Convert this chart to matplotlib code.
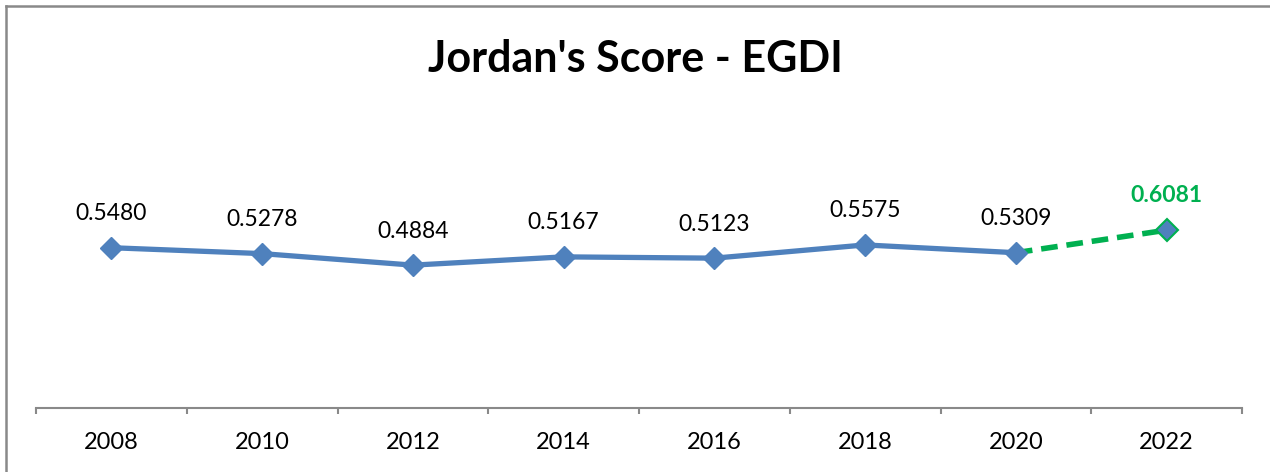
import matplotlib.pyplot as plt
import numpy as np

years = ["2008", "2010", "2012", "2014", "2016", "2018", "2020", "2022"]
scores = [0.5480, 0.5278, 0.4884, 0.5167, 0.5123, 0.5575, 0.5309, 0.6081]

blue = "#4F81BD"
green = "#00B050"
gray = "#898989"

plt.rcParams['font.family'] = ['Lato', 'DejaVu Sans']

fig = plt.figure(figsize=(12.7, 4.72), dpi=100)
ax = fig.add_axes([36 / 1270, 64 / 472, 1206 / 1270, 292.5 / 472])

x = np.arange(len(years))

# dashed forecast segment
ax.plot(x[-2:], scores[-2:], color=green, lw=4, ls=(0, (3, 1.6)), zorder=2)
# actual series
ax.plot(x[:-1], scores[:-1], color=blue, lw=3.8, marker='D', markersize=11.5,
        markeredgecolor=blue, zorder=3)
ax.plot(x[-1], scores[-1], marker='D', markersize=11.5, color=blue,
        markeredgecolor=green, markeredgewidth=1.5, zorder=3)

for i, v in enumerate(scores):
    if i == len(scores) - 1:
        ax.annotate(f"{v:.4f}", (i, v), xytext=(0, 25), textcoords='offset points',
                    ha='center', va='center', fontsize=16.5, color=green, fontweight='bold')
    else:
        ax.annotate(f"{v:.4f}", (i, v), xytext=(0, 24.5), textcoords='offset points',
                    ha='center', va='center', fontsize=16.5, color='black')

ax.set_xlim(-0.5, len(years) - 0.5)
ax.set_ylim(0, 1.0)

ax.set_xticks(np.arange(-0.5, len(years), 1.0))
ax.set_xticklabels([])
ax.set_xticks(x, minor=True)
ax.set_xticklabels(years, minor=True, fontsize=17)
ax.tick_params(axis='x', which='major', length=4, width=1.5, color=gray, direction='out')
ax.tick_params(axis='x', which='minor', length=0, pad=17)
ax.set_yticks([])

for s in ['top', 'right', 'left']:
    ax.spines[s].set_visible(False)
ax.spines['bottom'].set_color(gray)
ax.spines['bottom'].set_linewidth(1.5)

fig.text(0.5, 1 - 59 / 472, "Jordan's Score - EGDI", ha='center', va='center',
         fontsize=31, fontweight='bold')

# chart frame (top and left edges)
fig.add_artist(plt.Line2D([6 / 1270, 1], [1 - 6 / 472, 1 - 6 / 472], color=gray, lw=1.8))
fig.add_artist(plt.Line2D([6 / 1270, 6 / 1270], [0, 1 - 6 / 472], color=gray, lw=1.8))

fig.savefig("out.png", dpi=100)
